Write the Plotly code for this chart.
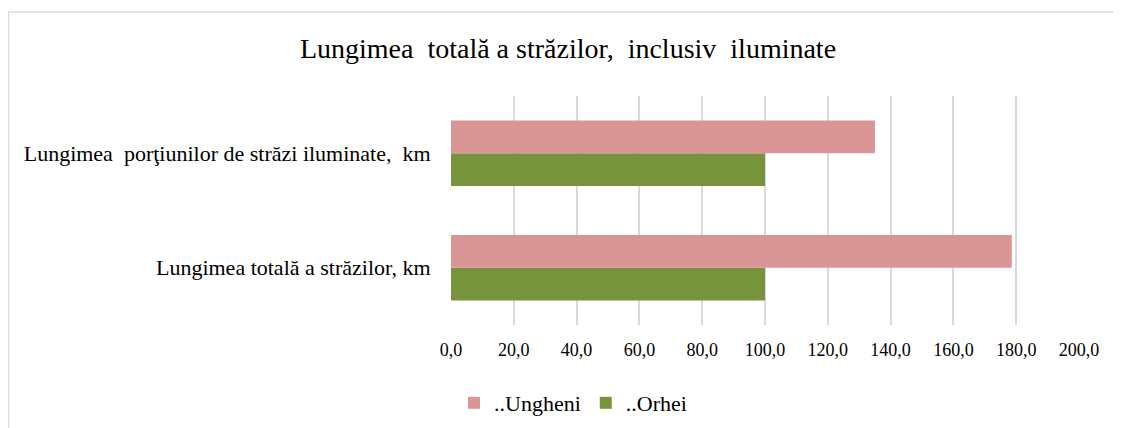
import plotly.graph_objects as go

categories = ["Lungimea totală a străzilor, km", "Lungimea  porţiunilor de străzi iluminate,  km"]
ungheni = [178.6, 135.0]
orhei = [100.0, 100.0]
tick_vals = [0, 20, 40, 60, 80, 100, 120, 140, 160, 180, 200]

PINK = "#d99694"
GREEN = "#77933c"
FONT = "Liberation Serif"

fig = go.Figure()
fig.add_trace(go.Bar(y=categories, x=orhei, orientation="h", name="..Orhei",
                     marker=dict(color=GREEN, line=dict(width=0)), legendrank=2))
fig.add_trace(go.Bar(y=categories, x=ungheni, orientation="h", name="..Ungheni",
                     marker=dict(color=PINK, line=dict(width=0)), legendrank=1))

W, H = 1121, 428
L, R, T, B = 443, 50, 88, 111
pw, ph = W - L - R, H - T - B

fig.update_layout(
    width=W, height=H,
    margin=dict(l=L, r=R, t=T, b=B),
    paper_bgcolor="white", plot_bgcolor="white",
    barmode="group", bargap=0.43, bargroupgap=0,
    separators=",.",
    font=dict(family=FONT, color="black", size=18),
    title=dict(text="Lungimea  totală a străzilor,  inclusiv  iluminate",
               font=dict(family=FONT, size=28, color="black"),
               x=560 / W, xanchor="center", xref="container",
               y=1 - 40 / H, yanchor="middle", yref="container"),
    xaxis=dict(range=[0, 200], tickvals=tick_vals, tickformat=".1f",
               showgrid=True, gridcolor="#d9d9d9", gridwidth=1.5,
               zeroline=False, showline=False,
               ticks="outside", ticklen=8, tickcolor="rgba(0,0,0,0)",
               tickfont=dict(family=FONT, size=18)),
    yaxis=dict(showgrid=False, zeroline=False, showline=False,
               ticks="outside", ticklen=15, tickcolor="rgba(0,0,0,0)",
               tickfont=dict(family=FONT, size=22), range=[-0.5, 1.5]),
    legend=dict(orientation="h", x=(446 - L) / pw, xanchor="left",
                y=(T + ph - 395) / ph, yanchor="middle",
                font=dict(family=FONT, size=22), traceorder="normal",
                itemwidth=30, tracegroupgap=0),
    showlegend=True,
)

fig.add_shape(type="rect", xref="paper", yref="paper",
              x0=(0.5 - L) / pw, x1=(W + 20 - L) / pw,
              y0=(T + ph - (H + 20)) / ph, y1=(T + ph - 4) / ph,
              line=dict(color="#d9d9d9", width=1.5), fillcolor="rgba(0,0,0,0)", layer="below")

fig.write_html("out.html")
